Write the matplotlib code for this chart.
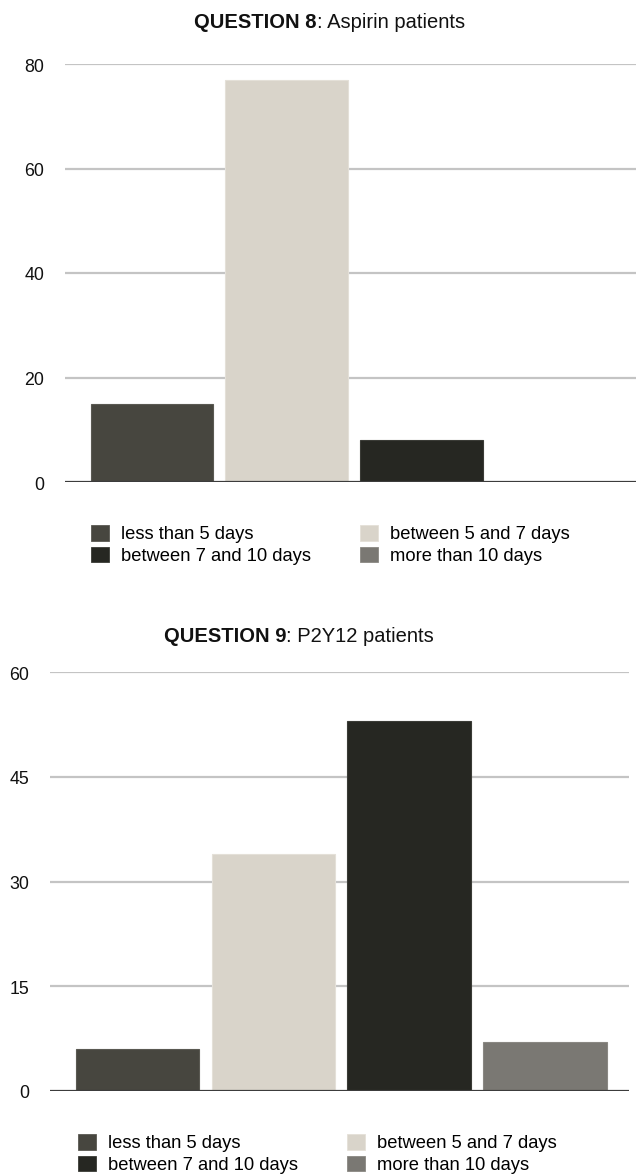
import matplotlib
matplotlib.use("Agg")
import matplotlib.pyplot as plt
import matplotlib.transforms as mtransforms
from matplotlib.patches import Patch

plt.rcParams['font.family'] = ['Liberation Sans', 'DejaVu Sans']

# datos
categorias = ["less than 5 days", "between 5 and 7 days",
              "between 7 and 10 days", "more than 10 days"]
aspirina = [15, 77, 8, 0]
p2y12 = [6, 34, 53, 7]
ticks_aspirina = [0, 20, 40, 60, 80]
ticks_p2y12 = [0, 15, 30, 45, 60]

colores = ["#47463f", "#d9d4ca", "#262722", "#7a7873"]
bordes = ["#5a5952", "#e4e0d8", "#3a3b36", "#8a8883"]

W, H = 636, 1176
fig = plt.figure(figsize=(W / 100, H / 100), dpi=100)


def px_rect(x0, y0, x1, y1):
    # rectangulo en pixeles (origen arriba a la izquierda) -> coords de figura
    return [x0 / W, 1 - y1 / H, (x1 - x0) / W, (y1 - y0) / H]


def dibujar(rect, valores, ticks, titulo_b, titulo_r, x_titulo, y_titulo, leg_xy):
    ax = fig.add_axes(px_rect(*rect))
    x = list(range(len(valores)))
    ax.bar(x, valores, width=0.91, color=colores, edgecolor=bordes,
           linewidth=0.8, zorder=3)
    ax.set_ylim(ticks[0], ticks[-1])
    ax.set_xlim(-0.645, 3.62)
    ax.set_yticks(ticks)
    ax.set_yticklabels([str(t) for t in ticks])
    ax.set_xticks([])
    for s in ax.spines.values():
        s.set_visible(False)
    ax.tick_params(axis='y', length=0, pad=15, labelsize=12.8, labelcolor="#111111")
    bajar = mtransforms.ScaledTranslation(0, -3 / 100, fig.dpi_scale_trans)
    for t in ax.get_yticklabels():
        t.set_verticalalignment('center')
        t.set_transform(t.get_transform() + bajar)
    for t in ticks[1:]:
        ax.axhline(t, color="#c4c4c4", lw=1.6, zorder=1)
    ax.axhline(0, color="#3c3c3c", lw=1.6, zorder=4)
    # titulo en dos partes: negrita + normal
    fig.text(x_titulo / W, 1 - y_titulo / H, titulo_b, ha='right', va='center',
             fontsize=14.5, fontweight='bold', color="#111111")
    fig.text(x_titulo / W, 1 - y_titulo / H, titulo_r, ha='left', va='center',
             fontsize=14.5, color="#111111")
    orden = [0, 2, 1, 3]
    handles = [Patch(facecolor=colores[i], edgecolor=bordes[i], lw=0.6) for i in orden]
    labels = [categorias[i] for i in orden]
    fig.legend(handles, labels, loc='upper left', ncol=2,
               bbox_to_anchor=(leg_xy[0] / W, 1 - leg_xy[1] / H),
               frameon=False, borderpad=0, borderaxespad=0,
               handlelength=1.0, handleheight=0.95, handletextpad=0.65,
               labelspacing=0.18, columnspacing=2.65, fontsize=13.2)
    return ax


dibujar((65, 64, 640, 482), aspirina, ticks_aspirina,
        "QUESTION 8", ": Aspirin patients", 317, 22, (91, 525))
dibujar((50, 672, 629, 1091), p2y12, ticks_p2y12,
        "QUESTION 9", ": P2Y12 patients", 286, 637, (78, 1134))

fig.savefig("out.png", dpi=100, facecolor="white")
